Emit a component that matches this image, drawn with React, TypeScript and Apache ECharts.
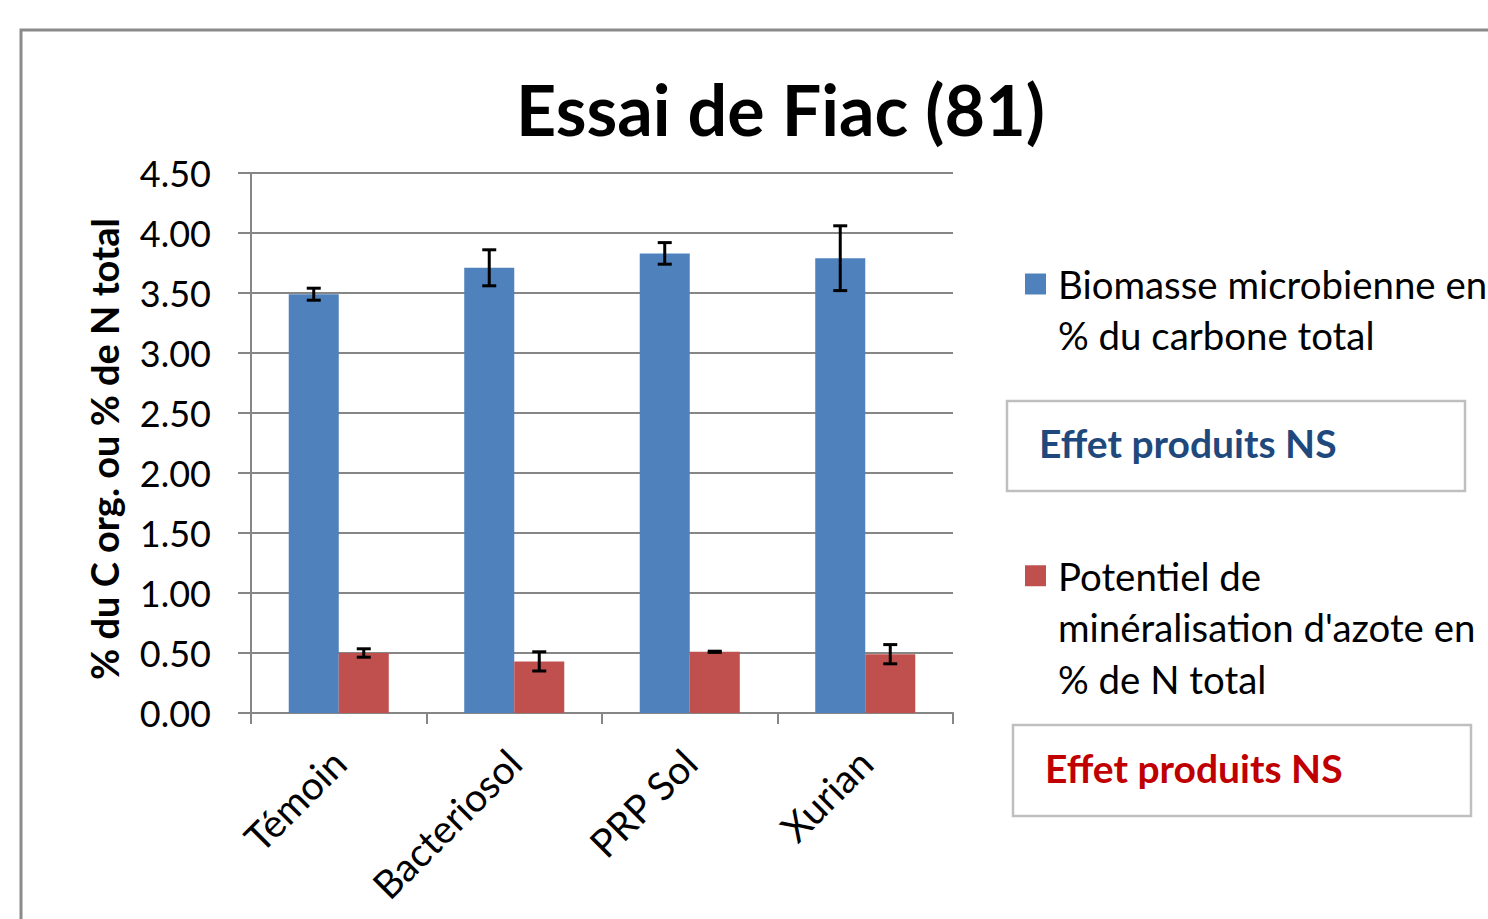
import React, { useEffect, useRef } from "react";
import * as echarts from "echarts";

const categories = ["Témoin", "Bacteriosol", "PRP Sol", "Xurian"];
const seriesNames = [
  "Biomasse microbienne en % du carbone total",
  "Potentiel de minéralisation d'azote en % de N total",
];
const legendLabels = [
  "Biomasse microbienne en\n% du carbone total",
  "Potentiel de\nminéralisation d'azote en\n% de N total",
];
const biomasse = [3.49, 3.71, 3.83, 3.79];
const biomasseErr = [0.05, 0.15, 0.09, 0.27];
const potentiel = [0.5, 0.43, 0.51, 0.49];
const potentielErr = [0.035, 0.08, 0.005, 0.08];
const yTicks = { min: 0, max: 4.5, interval: 0.5 };
const title = "Essai de Fiac (81)";
const yAxisName = "% du C org. ou % de N total";
const noteText = "Effet produits NS";

const BLUE = "#4F81BD";
const RED = "#C0504D";
const FONT = "Lato";
const BAR_RATIO = 0.285;

function errorSeries(values: number[], errs: number[], side: number) {
  return {
    type: "custom",
    silent: true,
    z: 5,
    data: values.map((v, i) => [i, v, errs[i]]),
    renderItem: (params: any, api: any) => {
      const i = api.value(0);
      const v = api.value(1);
      const e = api.value(2);
      const bw = api.size([1, 0])[0];
      const cx = api.coord([i, v])[0] + side * (bw * BAR_RATIO) / 2;
      const yt = api.coord([i, v + e])[1];
      const yb = api.coord([i, v - e])[1];
      const hw = 7;
      const st = { stroke: "#000", lineWidth: 3 };
      return {
        type: "group",
        children: [
          { type: "line", shape: { x1: cx, y1: yt, x2: cx, y2: yb }, style: st },
          { type: "line", shape: { x1: cx - hw, y1: yt, x2: cx + hw, y2: yt }, style: st },
          { type: "line", shape: { x1: cx - hw, y1: yb, x2: cx + hw, y2: yb }, style: st },
        ],
      };
    },
  };
}

// pad the label with blank lines above so the icon sits beside the first line
function withLead(label: string) {
  const n = label.split("\n").length;
  return "\n".repeat(n - 1) + label;
}

export default function App() {
  const ref = useRef<HTMLDivElement>(null);
  useEffect(() => {
    if (!ref.current) return;
    const chart = echarts.init(ref.current, null, { renderer: "svg" });
    const legendBase = {
      orient: "vertical",
      left: 1020,
      itemWidth: 21,
      itemHeight: 21,
      icon: "rect",
      selectedMode: false,
    };
    chart.setOption({
      animation: false,
      backgroundColor: "#fff",
      title: {
        text: title,
        left: 511,
        top: 69,
        textStyle: { fontFamily: FONT, fontSize: 70, fontWeight: "bold", color: "#000" },
      },
      legend: [
        {
          ...legendBase,
          top: 202.5,
          data: [seriesNames[0]],
          formatter: () => withLead(legendLabels[0]),
          textStyle: { fontFamily: FONT, fontSize: 38.4, color: "#000", lineHeight: 51, padding: [0, 0, 0, 7] },
        },
        {
          ...legendBase,
          top: 442,
          data: [seriesNames[1]],
          formatter: () => withLead(legendLabels[1]),
          textStyle: { fontFamily: FONT, fontSize: 38.4, color: "#000", lineHeight: 51.5, padding: [0, 0, 0, 7] },
        },
      ],
      grid: { left: 251, top: 173, width: 702, height: 540, containLabel: false },
      xAxis: {
        type: "category",
        data: categories,
        axisLine: { lineStyle: { color: "#868686", width: 2 } },
        axisTick: { show: true, length: 11, lineStyle: { color: "#868686", width: 2 } },
        axisLabel: {
          interval: 0,
          rotate: 45,
          margin: 43,
          fontFamily: FONT,
          fontSize: 39,
          color: "#000",
        },
      },
      yAxis: {
        type: "value",
        min: yTicks.min,
        max: yTicks.max,
        interval: yTicks.interval,
        name: yAxisName,
        nameLocation: "middle",
        nameGap: 128,
        nameTextStyle: { fontFamily: FONT, fontSize: 38, fontWeight: "bold", color: "#000", padding: [0, 12, 0, 0] },
        axisLine: { show: true, lineStyle: { color: "#868686", width: 2 } },
        axisTick: { show: true, length: 13, lineStyle: { color: "#868686", width: 2 } },
        splitLine: { show: true, lineStyle: { color: "#868686", width: 2 } },
        axisLabel: {
          margin: 40,
          fontFamily: FONT,
          fontSize: 36,
          color: "#000",
          formatter: (v: number) => v.toFixed(2),
        },
      },
      series: [
        {
          name: seriesNames[0],
          type: "bar",
          data: biomasse,
          barWidth: BAR_RATIO * 100 + "%",
          barGap: "0%",
          itemStyle: { color: BLUE },
        },
        {
          name: seriesNames[1],
          type: "bar",
          data: potentiel,
          barWidth: BAR_RATIO * 100 + "%",
          barGap: "0%",
          itemStyle: { color: RED },
        },
        errorSeries(biomasse, biomasseErr, -1),
        errorSeries(potentiel, potentielErr, 1),
      ],
      graphic: [
        {
          type: "rect",
          shape: { x: 21, y: 30, width: 1520, height: 960 },
          style: { fill: "none", stroke: "#8a8a8a", lineWidth: 3 },
          silent: true,
        },
        {
          type: "rect",
          shape: { x: 1007, y: 401, width: 458, height: 90 },
          style: { fill: "#fff", stroke: "#bfbfbf", lineWidth: 2.5 },
        },
        {
          type: "text",
          left: 1039,
          top: 423,
          style: { text: noteText, fontFamily: FONT, fontSize: 39, fontWeight: "bold", fill: "#1F497D" },
        },
        {
          type: "rect",
          shape: { x: 1013, y: 725, width: 458, height: 91 },
          style: { fill: "#fff", stroke: "#bfbfbf", lineWidth: 2.5 },
        },
        {
          type: "text",
          left: 1045,
          top: 748,
          style: { text: noteText, fontFamily: FONT, fontSize: 39, fontWeight: "bold", fill: "#C00000" },
        },
      ],
    });
    return () => chart.dispose();
  }, []);
  return (
    <div
      ref={ref}
      style={{ position: "absolute", left: 0, top: 0, width: 1488, height: 919, overflow: "hidden" }}
    />
  );
}
